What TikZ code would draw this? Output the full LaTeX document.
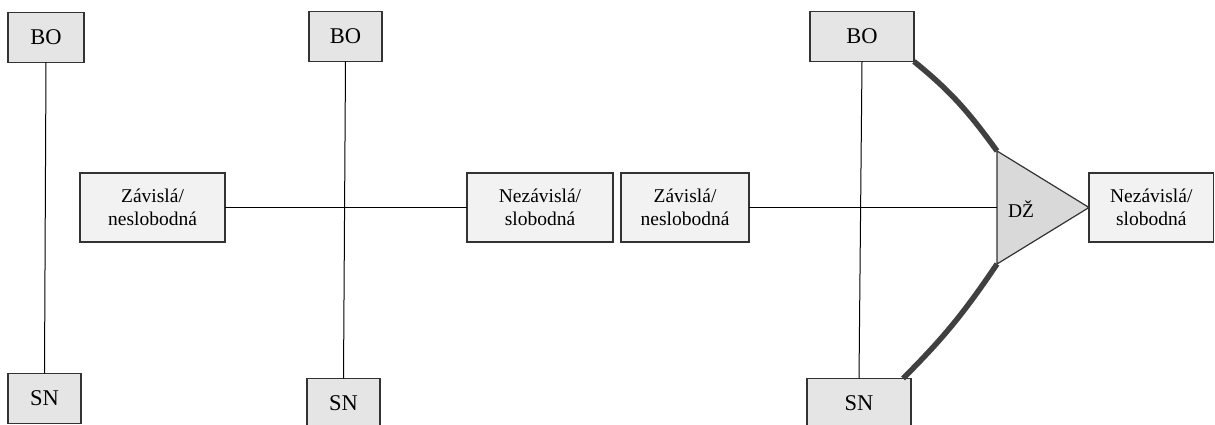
\documentclass[tikz,border=0pt]{standalone}
\usepackage{fontspec}
\setmainfont{Liberation Serif}
\usetikzlibrary{positioning,shapes.geometric}

\begin{document}
\begin{tikzpicture}[
x = 1pt, y = 1pt,
node distance = 8pt,
every node/.style = {
	font = \fontsize{19.5}{22.5}\selectfont,
	inner sep = 0pt,
	outer sep = 0pt
},
role/.style = {
	draw = black!80,
	line width = 1.2pt,
	fill = black!10,
	minimum height = 50pt,
	font = \fontsize{22.5}{26}\selectfont
},
kind/.style = {
	draw = black!80,
	line width = 1.2pt,
	fill = black!5,
	align = center,
	minimum height = 69pt
},
link/.style = {
	line width = 1pt
},
bond/.style = {
	line width = 5.5pt,
	draw = black!75
}
]
\useasboundingbox (0,0) rectangle (1215,425);

% first picture
\node (bo1) [role, minimum width = 76pt] at (46,387.5) {BO};
\node (sn1) [role, minimum width = 73pt] at (44.5,26.5) {SN};
\draw [link] (bo1.south) -- (sn1.north);

% second picture
\node (zav1) [kind, minimum width = 145pt] at (152.5,217.5) {Závislá/\\neslobodná};
\node (nez1) [kind, minimum width = 146pt] at (540,217.5) {Nezávislá/\\slobodná};
\node (bo2) [role, minimum width = 73pt] at (345.5,388.5) {BO};
\node (sn2) [role, minimum width = 73pt] at (343.5,21.5) {SN};
\draw [link] (bo2.south) -- (sn2.north);
\draw [link] (zav1.east) -- (nez1.west);

% third picture
\node (zav2) [kind, minimum width = 128pt, right = of nez1] {Závislá/\\neslobodná};
\node (bo3) [role, minimum width = 104pt] at (862,388.5) {BO};
\node (sn3) [role, minimum width = 104pt] at (859,21.5) {SN};
\node (dz) [draw = black!80, line width = 1.2pt, fill = black!15,
	isosceles triangle, isosceles triangle stretches, shape border rotate = 0,
	minimum width = 113pt, minimum height = 92pt,
	anchor = lower side] at (997,217.5) {};
\node (dzlabel) [right = 11pt of dz.lower side, yshift = -2pt] {DŽ};
\node (nez2) [kind, minimum width = 124.5pt, anchor = west] at (dz.apex) {Nezávislá/\\slobodná};
\draw [link] (bo3.south) -- (sn3.north);
\draw [link] (zav2.east) -- (dz.lower side);
\draw [bond] (bo3.south east) to[out = -39, in = 126] (dz.left corner);
\draw [bond] ([xshift = -8pt]sn3.north east) to[out = 45, in = -124] (dz.right corner);

\end{tikzpicture}
\end{document}
